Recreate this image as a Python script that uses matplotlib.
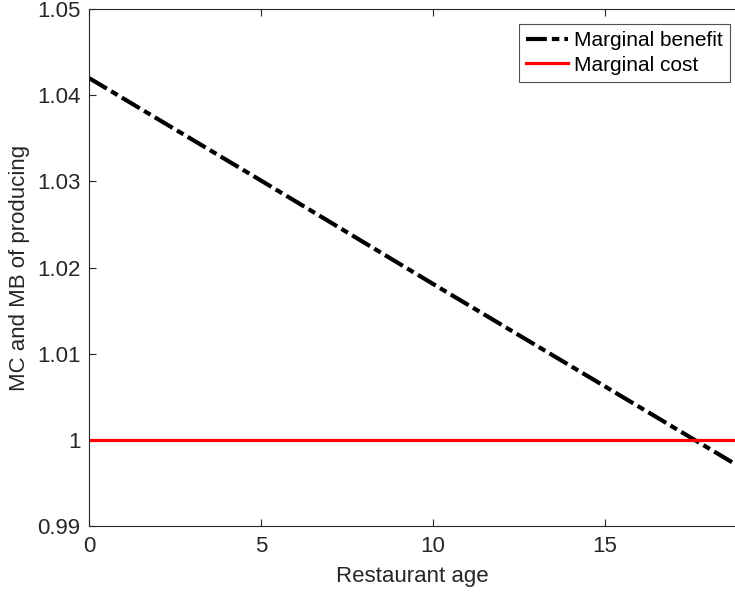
import matplotlib
matplotlib.use("Agg")
import matplotlib.pyplot as plt

plt.rcParams['font.family'] = ['Liberation Sans', 'DejaVu Sans']

# restaurant age and the two curves
age = [0, 5, 10, 15, 20]
marginal_benefit = [1.042, 1.0301, 1.0181, 1.0062, 0.9943]
marginal_cost = [1.0, 1.0, 1.0, 1.0, 1.0]

xticks = [0, 5, 10, 15]
yticks = [0.99, 1.0, 1.01, 1.02, 1.03, 1.04, 1.05]
yticklabels = ["0.99", "1", "1.01", "1.02", "1.03", "1.04", "1.05"]

fg = "#262626"

fig = plt.figure(figsize=(7.35, 5.96), dpi=100)
ax = fig.add_axes([0.121, 0.1174, 0.879, 0.8674])

ax.plot(age, marginal_benefit, color="black", lw=3, linestyle=(0, (5, 1.2, 1.8, 1.2)),
        label="Marginal benefit")
ax.plot(age, marginal_cost, color="red", lw=2.3, label="Marginal cost")

ax.set_xlim(0, 18.78)
ax.set_ylim(0.99, 1.05)
ax.set_xticks(xticks)
ax.set_yticks(yticks)
ax.set_yticklabels(yticklabels)
ax.tick_params(direction="in", length=5, width=0.8, colors=fg, labelsize=16,
               top=True, right=False)
ax.tick_params(axis="x", pad=7)
ax.tick_params(axis="y", pad=6)
for s in ["left", "bottom", "top"]:
    ax.spines[s].set_color(fg)
    ax.spines[s].set_linewidth(0.8)
ax.spines["right"].set_visible(False)

ax.set_xlabel("Restaurant age", fontsize=16, color=fg, labelpad=7)
ax.set_ylabel("MC and MB of producing", fontsize=16, color=fg, labelpad=5)

leg = ax.legend(loc="upper right", bbox_to_anchor=(0.992, 0.971), fontsize=15,
                frameon=True, fancybox=False, handlelength=2.0, handletextpad=0.3,
                borderpad=0.35, labelspacing=0.25, borderaxespad=0)
leg.get_frame().set_edgecolor(fg)
leg.get_frame().set_linewidth(0.8)
for t in leg.get_texts():
    t.set_color("black")

fig.savefig("out.png", dpi=100)
